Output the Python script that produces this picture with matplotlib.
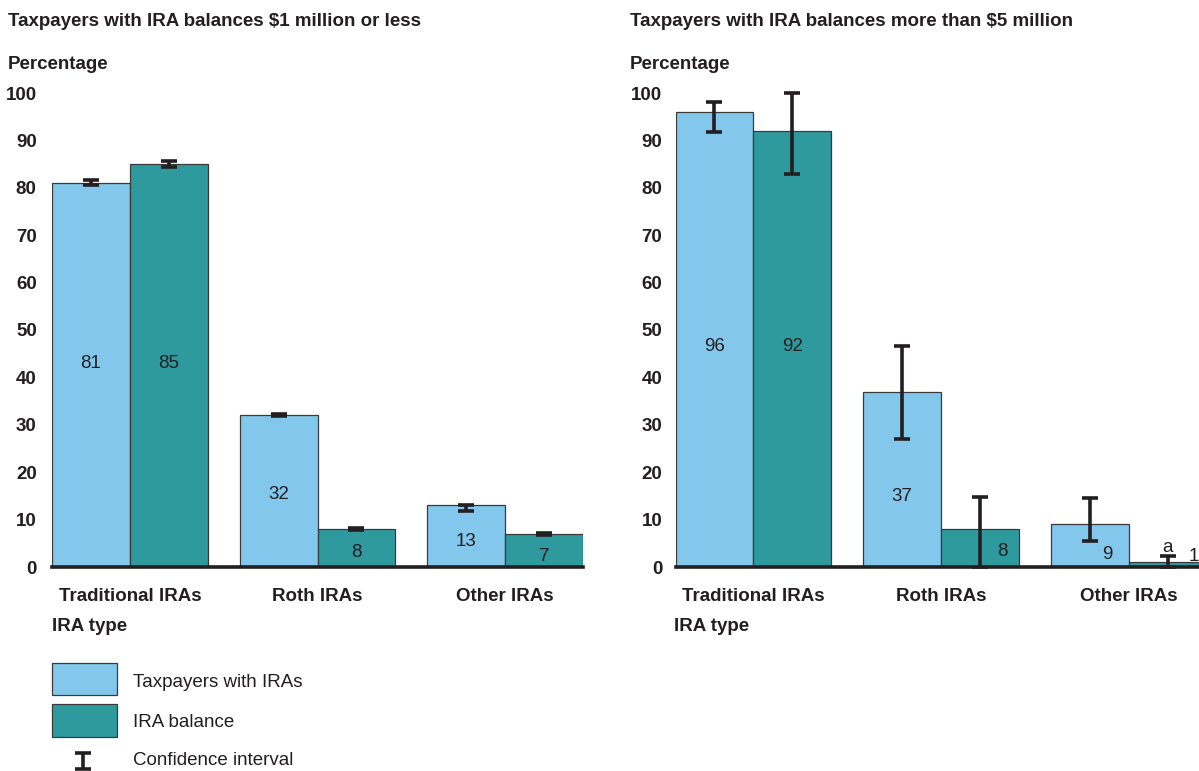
import matplotlib
matplotlib.use("Agg")
import matplotlib.pyplot as plt
from matplotlib.patches import Rectangle

plt.rcParams['font.family'] = ['Liberation Sans', 'DejaVu Sans']

# ---------------- data ----------------
categories = ["Traditional IRAs", "Roth IRAs", "Other IRAs"]
series_names = ["Taxpayers with IRAs", "IRA balance"]

# Taxpayers with IRA balances of $1 million or less
small_taxpayers = [81, 32, 13]
small_taxpayers_lo = [80.5, 31.8, 11.9]
small_taxpayers_hi = [81.6, 32.2, 13.1]
small_balance = [85, 8, 7]
small_balance_lo = [84.4, 7.8, 6.8]
small_balance_hi = [85.6, 8.2, 7.2]

# Taxpayers with IRA balances of more than $5 million
large_taxpayers = [96, 37, 9]
large_taxpayers_lo = [91.8, 27.1, 5.5]
large_taxpayers_hi = [98.1, 46.7, 14.5]
large_balance = [92, 8, 1]
large_balance_lo = [83, 0, 0]
large_balance_hi = [100, 14.8, 2.3]

y_ticks = [0, 10, 20, 30, 40, 50, 60, 70, 80, 90, 100]

panel_titles = ["Taxpayers with IRA balances $1 million or less",
                "Taxpayers with IRA balances more than $5 million"]
y_title = "Percentage"
x_title = "IRA type"
ci_label = "Confidence interval"
footnote_mark = "a"

# ---------------- style ----------------
LIGHT = "#83C8EC"
TEAL = "#2E9A9E"
DARK = "#231F20"
EDGE = "#3A3A3A"
FS = 13.5
W, H = 1199, 771
BAR_W = 0.415

fig = plt.figure(figsize=(W / 100, H / 100), dpi=100)


def fx(x):
    return x / W


def fy(y):
    return 1 - y / H


def draw_panel(left_px, tick_pad, light, light_lo, light_hi, teal, teal_lo, teal_hi,
               light_lab_y, teal_lab_y, light_lab_dx, teal_lab_dx):
    ax = fig.add_axes([fx(left_px), fy(567), 531 / W, 474 / H])
    ax.set_xlim(-BAR_W, 2 + BAR_W)
    ax.set_ylim(0, 100)
    groups = list(range(len(categories)))
    xl = [g - BAR_W / 2 for g in groups]
    xt = [g + BAR_W / 2 for g in groups]
    ax.bar(xl, light, width=BAR_W, color=LIGHT, edgecolor=EDGE, linewidth=0.9, zorder=2)
    ax.bar(xt, teal, width=BAR_W, color=TEAL, edgecolor=EDGE, linewidth=0.9, zorder=2)
    for xs, v, lo, hi in ((xl, light, light_lo, light_hi), (xt, teal, teal_lo, teal_hi)):
        err = [[a - b for a, b in zip(v, lo)], [b - a for a, b in zip(v, hi)]]
        ax.errorbar(xs, v, yerr=err, fmt='none', ecolor=DARK, elinewidth=2.6,
                    capsize=5.8, capthick=2.6, zorder=3, clip_on=False)
    for xs, v, ly, dx in ((xl, light, light_lab_y, light_lab_dx),
                          (xt, teal, teal_lab_y, teal_lab_dx)):
        for x, val, y, d in zip(xs, v, ly, dx):
            ax.annotate(f"{val}", (x, y), xytext=(d, 0), textcoords="offset points",
                        ha="center", va="center", fontsize=FS, color=DARK,
                        annotation_clip=False)
    ax.axhline(0, color=DARK, linewidth=2.6, zorder=4, clip_on=False)
    for s in ax.spines.values():
        s.set_visible(False)
    ax.set_yticks(y_ticks)
    ax.set_yticklabels([str(t) for t in y_ticks], fontsize=FS, fontweight="bold", color=DARK)
    ax.set_xticks(groups)
    ax.set_xticklabels(categories, fontsize=FS, fontweight="bold", color=DARK)
    ax.tick_params(axis="y", length=0, pad=tick_pad)
    ax.tick_params(axis="x", length=0, pad=15)
    ax.patch.set_alpha(0)
    return ax, xt


draw_panel(52, 11, small_taxpayers, small_taxpayers_lo, small_taxpayers_hi,
           small_balance, small_balance_lo, small_balance_hi,
           [43, 15.4, 5.3], [43, 3.0, 2.3], [0, 0, 0], [0, 0, 0])
ax2, xt2 = draw_panel(675.5, 9.5, large_taxpayers, large_taxpayers_lo, large_taxpayers_hi,
                      large_balance, large_balance_lo, large_balance_hi,
                      [46.6, 14.8, 2.7], [46.6, 3.2, 2.3], [0, 0, 13], [0, 16, 19])
ax2.text(xt2[2], large_balance_hi[2] + 1.9, footnote_mark, ha="center", va="center",
         fontsize=FS, color=DARK)

# titles and axis titles
for x0, title in zip((8, 630), panel_titles):
    fig.text(fx(x0), fy(26), title, fontsize=FS, fontweight="bold", color=DARK, va="baseline")
    fig.text(fx(x0), fy(69), y_title, fontsize=FS, fontweight="bold", color=DARK, va="baseline")
for x0 in (52, 674):
    fig.text(fx(x0), fy(631), x_title, fontsize=FS, fontweight="bold", color=DARK, va="baseline")

# legend
lax = fig.add_axes([0, 0, 1, 1])
lax.set_xlim(0, W)
lax.set_ylim(H, 0)
lax.axis("off")
lax.add_patch(Rectangle((52, 663), 65, 32, facecolor=LIGHT, edgecolor=EDGE, linewidth=0.9))
lax.add_patch(Rectangle((52, 704), 65, 33, facecolor=TEAL, edgecolor=EDGE, linewidth=0.9))
lax.errorbar([82.5], [761], yerr=[[8], [8]], fmt='none', ecolor=DARK, elinewidth=2.6,
             capsize=5.8, capthick=2.6)
for y0, lab in zip((687, 727, 765), series_names + [ci_label]):
    lax.text(133, y0, lab, fontsize=FS, color=DARK, va="baseline")

fig.savefig("out.png", dpi=100)
